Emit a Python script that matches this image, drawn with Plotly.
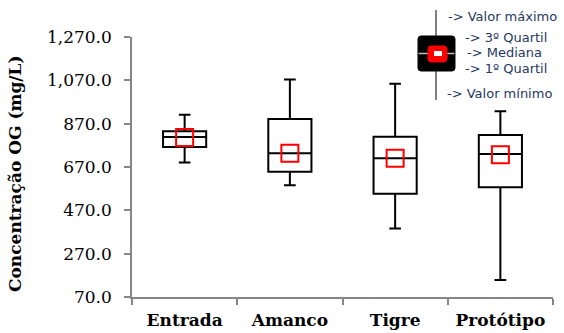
import plotly.graph_objects as go

categories = ["Entrada", "Amanco", "Tigre", "Protótipo"]
minimo = [691, 586, 386, 148]
q1 = [762, 648, 546, 577]
mediana = [808, 733, 710, 730]
q3 = [835, 891, 810, 818]
maximo = [911, 1074, 1054, 927]
media = [806, 733, 710, 727]
y_ticks = [70, 270, 470, 670, 870, 1070, 1270]

W, H = 564, 333
L, R, T, B = 132, 11, 37, 36
PW, PH = W - L - R, H - T - B

def px(x):
    return (x - L) / PW

def py(y):
    return (H - B - y) / PH

def rounded_rect(x0, y0, x1, y1, r):
    pts = [
        ("M", x0 + r, y0), ("L", x1 - r, y0), ("Q", x1, y0, x1, y0 + r),
        ("L", x1, y1 - r), ("Q", x1, y1, x1 - r, y1), ("L", x0 + r, y1),
        ("Q", x0, y1, x0, y1 - r), ("L", x0, y0 + r), ("Q", x0, y0, x0 + r, y0),
    ]
    s = ""
    for p in pts:
        cmd = p[0]
        coords = p[1:]
        parts = []
        for i in range(0, len(coords), 2):
            parts.append(f"{px(coords[i]):.5f},{py(coords[i + 1]):.5f}")
        s += cmd + " " + " ".join(parts) + " "
    return s + "Z"

fig = go.Figure()
fig.add_trace(go.Box(
    x=categories, q1=q1, median=mediana, q3=q3,
    lowerfence=minimo, upperfence=maximo,
    width=0.41, whiskerwidth=0.27,
    fillcolor="rgba(0,0,0,0)",
    line=dict(color="black", width=2),
    boxpoints=False, hoverinfo="skip", showlegend=False,
))
fig.add_trace(go.Scatter(
    x=categories, y=media, mode="markers",
    marker=dict(symbol="square-open", size=17, color="#FF0000",
                line=dict(color="#FF0000", width=2)),
    showlegend=False,
))

shapes = []
# legend picture
shapes.append(dict(type="line", xref="paper", yref="paper",
                   x0=px(436), x1=px(436), y0=py(10), y1=py(100),
                   line=dict(color="#808080", width=2)))
shapes.append(dict(type="path", xref="paper", yref="paper",
                   path=rounded_rect(418, 36, 455, 71, 3),
                   fillcolor="black", line=dict(color="black", width=1)))
shapes.append(dict(type="line", xref="paper", yref="paper",
                   x0=px(418.5), x1=px(454.5), y0=py(53.5), y1=py(53.5),
                   line=dict(color="#BFBFBF", width=1.5)))
shapes.append(dict(type="path", xref="paper", yref="paper",
                   path=rounded_rect(428, 46, 447, 62, 3),
                   fillcolor="#FF0000", line=dict(color="#FF0000", width=1)))
shapes.append(dict(type="rect", xref="paper", yref="paper",
                   x0=px(434), x1=px(442), y0=py(51), y1=py(56),
                   fillcolor="white", line=dict(color="white", width=0)))

legend_texts = [
    ("-> Valor máximo", 446, 16),
    ("-> 3º Quartil", 463, 37),
    ("-> Mediana", 465, 52),
    ("-> 1º Quartil", 463, 68),
    ("-> Valor mínimo", 445, 93),
]
annotations = []
for txt, x, y in legend_texts:
    annotations.append(dict(
        text=txt, xref="paper", yref="paper", x=px(x), y=py(y),
        xanchor="left", yanchor="middle", showarrow=False,
        font=dict(family="DejaVu Sans", size=13, color="#1F3864"),
    ))
annotations.append(dict(
    text="<b>Concentração OG (mg/L)</b>", xref="paper", yref="paper",
    x=px(15), y=py(174), xanchor="center", yanchor="middle",
    textangle=-90, showarrow=False,
    font=dict(family="DejaVu Serif", size=17, color="black"),
))

fig.update_layout(
    width=W, height=H,
    margin=dict(l=L, r=R, t=T, b=B, autoexpand=False),
    paper_bgcolor="white", plot_bgcolor="white",
    shapes=shapes, annotations=annotations,
    xaxis=dict(
        type="category", tickson="boundaries", automargin=False,
        range=[-0.5, len(categories) - 0.5],
        showline=True, linecolor="#868686", linewidth=1.5,
        ticks="outside", ticklen=6, tickcolor="#868686", tickwidth=1.5,
        showgrid=False, zeroline=False,
        tickfont=dict(family="DejaVu Serif", size=17, color="black", weight="bold"),
        ticklabelstandoff=7,
    ),
    yaxis=dict(
        range=[70, 1270], tickvals=y_ticks, tickformat=",.1f", automargin=False,
        showline=True, linecolor="#868686", linewidth=1.5,
        ticks="outside", ticklen=6, tickcolor="#868686", tickwidth=1.5,
        showgrid=False, zeroline=False,
        tickfont=dict(family="DejaVu Serif", size=17, color="black"),
        ticklabelstandoff=9,
    ),
)

fig.write_html("out.html", config={"displayModeBar": False},
               post_script="document.body.style.margin='0';")
